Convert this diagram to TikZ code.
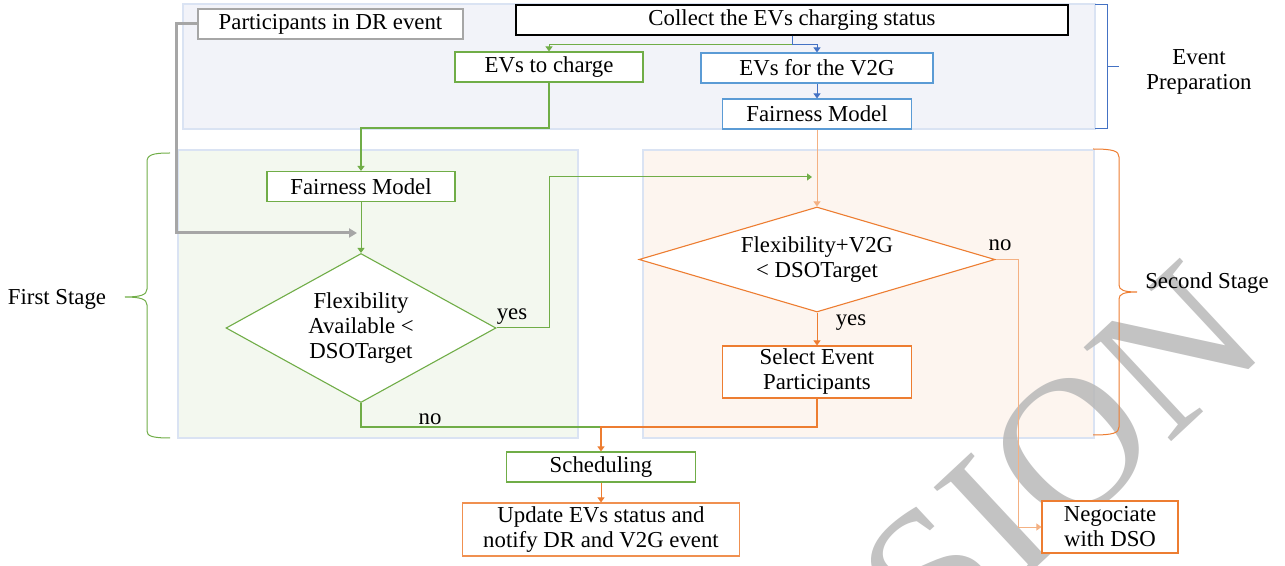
\documentclass[tikz,border=0pt]{standalone}
\usepackage{fontspec}
\setmainfont{Liberation Serif}
\usetikzlibrary{shapes.geometric, arrows.meta}
\definecolor{ogreen}{HTML}{70AD47}
\definecolor{oblue}{HTML}{4472C4}
\definecolor{lblue}{HTML}{5B9BD5}
\definecolor{oorange}{HTML}{ED7D31}
\definecolor{lorange}{HTML}{F4B183}
\definecolor{ogrey}{HTML}{A6A6A6}
\definecolor{prepbg}{HTML}{F2F3F9}
\definecolor{firstbg}{HTML}{F3F8EF}
\definecolor{secondbg}{HTML}{FDF5EF}
\definecolor{panelline}{HTML}{DAE3F3}
\tikzset{
    box/.style={draw, fill=white, line width=0.55pt, inner sep=0pt, minimum height=15pt, align=center},
    dia/.style={diamond, draw, fill=white, line width=0.55pt, inner sep=0pt, align=center},
    panel/.style={draw=panelline, line width=0.55pt},
    tip/.style={-{Triangle[length=2.5pt,width=3.5pt]}},
    conn/.style={line width=0.5pt, tip},
}

\begin{document}
\begin{tikzpicture}[x=0.5pt, y=-0.5pt, font=\fontsize{11.4}{12.5}\selectfont]
    \useasboundingbox (0,0) rectangle (1285,566);
    % stage panels
    \draw[panel, fill=prepbg] (183,4) rectangle (1095,129);
    \draw[panel, fill=firstbg] (178,150) rectangle (578,438);
    \draw[panel, fill=secondbg] (643,150) rectangle (1094,438);
    % watermark
    \node[rotate=43, text=black!28, opacity=0.85, font=\fontsize{98}{98}\selectfont] (wm) at (1060,458) {SION};

    % event preparation
    \node[box, draw=ogrey, minimum width=132.5pt] (part) at (330.5,24) {Participants in DR event};
    \node[box, draw=black, minimum width=276pt] (collect) at (792,20) {Collect the EVs charging status};
    \node[box, draw=ogreen, minimum width=94pt] (charge) at (549,67) {EVs to charge};
    \node[box, draw=lblue, minimum width=116pt] (vtog) at (817,68) {EVs for the V2G};
    \node[box, draw=lblue, minimum width=94.5pt] (fairB) at (817,114) {Fairness Model};
    % first stage
    \node[box, draw=ogreen, minimum width=94pt] (fairA) at (361,186.5) {Fairness Model};
    \node[dia, draw=ogreen, aspect=1.8, minimum width=135pt, minimum height=74.5pt] (flexA) at (361,328)
        {Flexibility\\Available <\\DSOTarget};
    % second stage
    \node[dia, draw=oorange, aspect=3.4, minimum width=178pt, minimum height=52.5pt] (flexB) at (817,259.5)
        {Flexibility+V2G\\< DSOTarget};
    \node[box, draw=oorange, minimum width=94.5pt, minimum height=26pt] (select) at (817,372) {Select Event\\Participants};
    % outputs
    \node[box, draw=ogreen, minimum width=94.5pt] (sched) at (601,467) {Scheduling};
    \node[box, draw=oorange!85, minimum width=138.5pt, minimum height=26.5pt] (update) at (601,529.5)
        {Update EVs status and\\notify DR and V2G event};
    \node[box, draw=oorange, minimum width=68pt, minimum height=26pt] (nego) at (1110,527) {Negociate\\with DSO};

    % side labels and braces
    \node[align=center] (prep) at (1199,72) {Event\\Preparation};
    \node (first) at (57,299) {First Stage};
    \node (second) at (1207,283) {Second Stage};
    \draw[oblue, line width=0.5pt] (1095,5) -- (1107,5) -- (1107,129) -- (1095,129) (1107,67) -- (1119,67);
    \draw[ogreen, line width=0.5pt] (170,153) .. controls (152,153) and (147,155) .. (147,162) -- (147,289)
        .. controls (147,295) and (140,297) .. (125,297) .. controls (140,297) and (147,299) .. (147,305)
        -- (147,431) .. controls (147,436) and (152,438) .. (170,438);
    \draw[oorange, line width=0.5pt] (1093,149) .. controls (1113,149) and (1119,151) .. (1119,157) -- (1119,285)
        .. controls (1119,290) and (1124,292) .. (1137,292) .. controls (1124,292) and (1119,294) .. (1119,299)
        -- (1119,427) .. controls (1119,433) and (1113,435) .. (1093,435);

    % connectors
    \coordinate (mergeA) at (357,233);
    \coordinate (yesin) at (812,177);
    \coordinate (join) at (601,427);
    \draw[ogrey, line width=1.5pt, -{Triangle[length=4pt,width=4.5pt]}] (part.west) -- ++(-21,0) |- (mergeA);
    \draw[ogreen, conn] (collect.south) -- ++(0,9) -| (charge.north);
    \draw[oblue, conn] (collect.south) -- ++(0,9) -| (vtog.north);
    \draw[oblue, conn] (vtog) -- (fairB);
    \draw[ogreen, conn, line width=1pt] (charge.south) -- ++(0,45) -| (fairA.north);
    \draw[ogreen, conn] (fairA) -- (flexA);
    \draw[ogreen, conn] (flexA.east) -- ++(53,0) |- (yesin);
    \draw[lorange, conn] (fairB) -- (flexB);
    \draw[oorange, conn] (flexB) -- (select);
    \draw[lorange, conn] (flexB.east) -- ++(23,0) |- (nego);
    \draw[ogreen, line width=0.8pt] (flexA.south) |- (join);
    \draw[oorange, conn, line width=1pt] (select.south) |- (join) -- (sched);
    \draw[oorange, conn] (sched) -- (update);
    % branch labels
    \node (yesA) at (512,317) {yes};
    \node (noA) at (430,419) {no};
    \node (yesB) at (851,323) {yes};
    \node (noB) at (1000,245) {no};
\end{tikzpicture}
\end{document}
